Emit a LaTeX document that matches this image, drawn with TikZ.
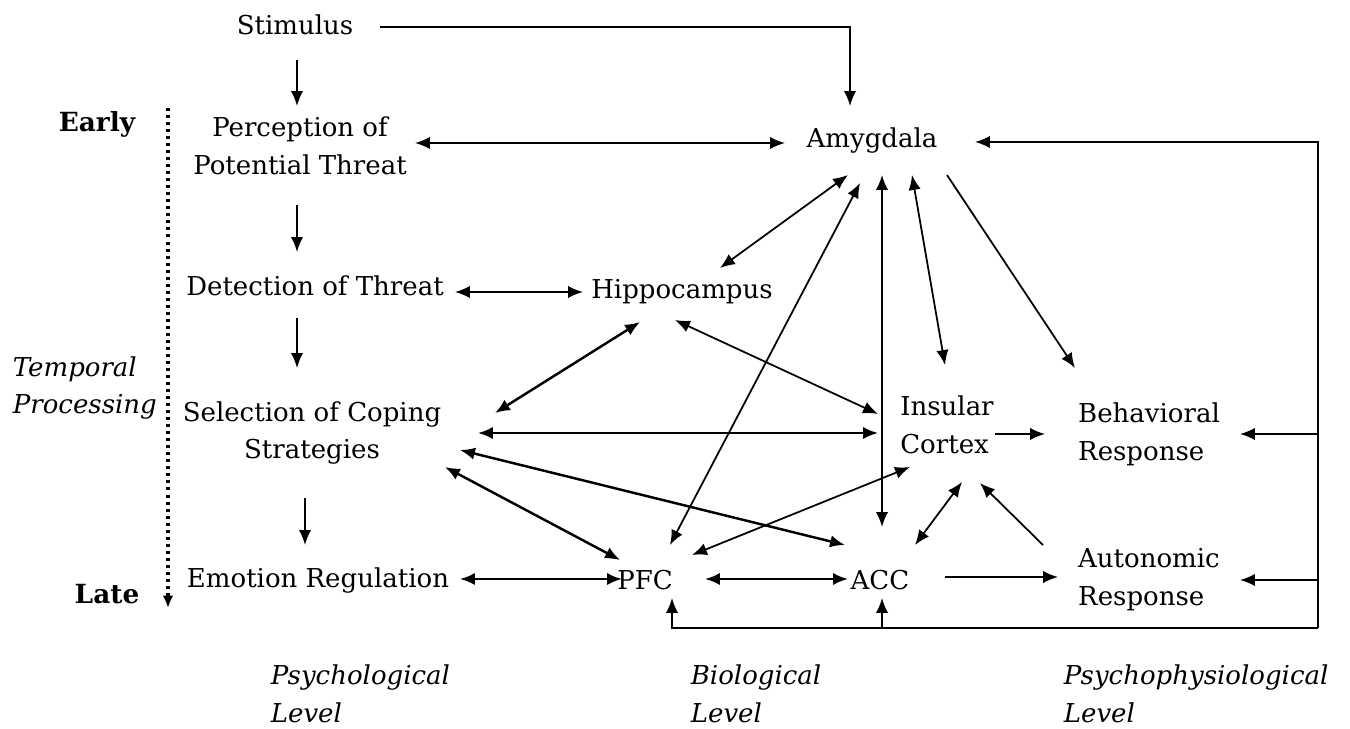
\documentclass[tikz,border=0pt]{standalone}
\usepackage{fontspec}
\setmainfont{DejaVu Serif}
\usepackage{tikz}
\usetikzlibrary{calc, arrows.meta}

\begin{document}
\begin{tikzpicture}[
    x=0.02cm, y=-0.02cm,
    >={Latex[length=8.5pt,width=7pt]},
    every path/.style={line width=1pt},
    heavy/.style={line width=1.4pt},
    stage/.style={align=center, inner sep=0pt, font=\fontsize{14.8}{21.5}\selectfont},
    tick/.style={font=\fontsize{15}{21.5}\selectfont\bfseries},
    level/.style={anchor=west, align=left, inner sep=0pt, font=\fontsize{14.8}{21.5}\selectfont\itshape}]

    \useasboundingbox (0,0) rectangle (1350,729);

    %%% Psychological level
    \node[stage] (stim) at (295,25) {Stimulus};
    \node[stage] (perc) at (300,146) {Perception of \\ Potential Threat};
    \node[stage] (det) at (315,286) {Detection of Threat};
    \node[stage] (sel) at (312,433) {Selection of Coping \\ Strategies};
    \node[stage] (emo) at (318,581) {Emotion Regulation};

    %%% Biological level
    \node[stage] (amyg) at (872,141) {Amygdala};
    \node[stage] (hipp) at (682,292) {Hippocampus};
    \node[stage, align=left] (ins) at (947,425) {Insular \\ Cortex};
    \node[stage] (pfc) at (645,580) {PFC};
    \node[stage] (acc) at (880,580) {ACC};

    %%% Psychophysiological level
    \node[stage, align=left] (beh) at (1149,434) {Behavioral \\ Response};
    \node[stage, align=left] (auto) at (1149,580) {Autonomic \\ Response};

    %%% Time axis and level captions
    \node[tick] (early) at (97,124) {Early};
    \node[tick] (late) at (107,594) {Late};
    \node[level] (temp) at (12,388) {Temporal \\ Processing};
    \node[level] (psy) at (270,694) {Psychological \\ Level};
    \node[level] (bio) at (690,694) {Biological \\ Level};
    \node[level] (phys) at (1063,694) {Psychophysiological \\ Level};

    \coordinate (tTop) at (168,108);
    \coordinate (tBot) at (168,608);
    \draw[-{Latex[length=7pt,width=6pt]}, line width=2.4pt, dash pattern=on 1.7pt off 2.3pt] (tTop) -- (tBot);

    %%% Chain of psychological stages
    \draw[->] ($(stim)+(2,35)$) -- ($(perc)+(-3,-40)$);
    \draw[->] ($(perc)+(-3,59)$) -- ($(det)+(-18,-34)$);
    \draw[->] ($(det)+(-18,32)$) -- ($(sel)+(-15,-65)$);
    \draw[->] ($(sel)+(-7,65)$) -- ($(emo)+(-13,-36)$);

    %%% Stimulus to amygdala
    \draw[->] ($(stim)+(85,2)$) -| ($(amyg)+(-22,-35)$);

    %%% Psychological <-> biological
    \draw[<->] ($(perc)+(115,-3)$) -- ($(amyg)+(-87,2)$);
    \draw[<->] ($(det)+(140,6)$) -- ($(hipp)+(-99,0)$);
    \draw[<->, heavy] ($(sel)+(183,-20)$) -- ($(hipp)+(-42,30)$);
    \draw[<->, heavy] ($(sel)+(166,0)$) -- ($(ins)+(-69,8)$);
    \draw[<->, heavy] ($(sel)+(148,17)$) -- ($(acc)+(-35,-35)$);
    \draw[<->, heavy] ($(sel)+(133,34)$) -- ($(pfc)+(-25,-20)$);
    \draw[<->, heavy] ($(emo)+(142,-2)$) -- ($(pfc)+(-23,-1)$);

    %%% Among brain regions
    \draw[<->] ($(amyg)+(-24,34)$) -- ($(hipp)+(38,-24)$);
    \draw[<->] ($(amyg)+(-12,42)$) -- ($(pfc)+(25,-35)$);
    \draw[<->] ($(amyg)+(10,34)$) -- ($(acc)+(2,-53)$);
    \draw[<->] ($(amyg)+(40,34)$) -- ($(ins)+(-2,-60)$);
    \draw[<->] ($(hipp)+(-7,28)$) -- ($(ins)+(-69,-11)$);
    \draw[<->] ($(ins)+(-37,42)$) -- ($(pfc)+(47,-25)$);
    \draw[<->, heavy] ($(pfc)+(60,-1)$) -- ($(acc)+(-32,-1)$);
    \draw[<->] ($(acc)+(35,-35)$) -- ($(ins)+(15,57)$);

    %%% Towards responses
    \draw[->] ($(amyg)+(75,34)$) -- ($(beh)+(-74,-66)$);
    \draw[->] ($(ins)+(48,9)$) -- ($(beh)+(-104,0)$);
    \draw[->] ($(acc)+(65,-3)$) -- ($(auto)+(-91,-3)$);
    \draw[->] ($(auto)+(-106,-35)$) -- ($(ins)+(33,58)$);

    %%% Feedback loop on the right
    \coordinate (loopNE) at (1318,142);
    \coordinate (loopSE) at (1318,628);
    \draw[->] (loopSE) -- (loopNE) -- ($(amyg)+(103,1)$);
    \draw[->] (loopSE |- beh) -- ($(beh)+(91,0)$);
    \draw[->] (loopSE |- auto) -- ($(auto)+(91,0)$);
    \draw[->] (loopSE) -| ($(pfc)+(27,18)$);
    \draw[->] ($(acc)+(2,48)$) -- ($(acc)+(2,18)$);

\end{tikzpicture}
\end{document}
